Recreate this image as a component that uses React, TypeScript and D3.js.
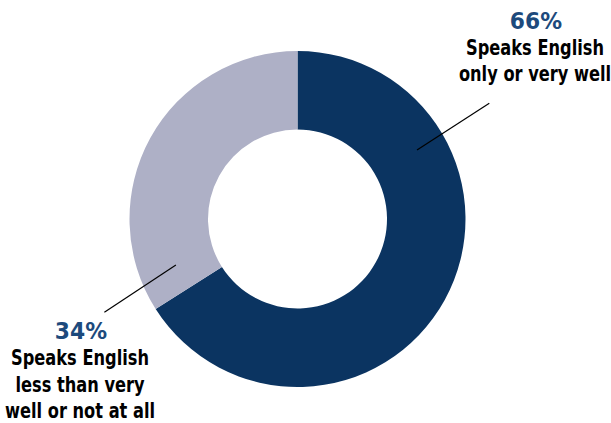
import React from "react";
import * as d3 from "d3";

const categories = ["Speaks English only or very well", "Speaks English less than very well or not at all"];
const values = [66, 34];
const percentLabels = ["66%", "34%"];
const labelLines = [
  ["Speaks English", "only or very well"],
  ["Speaks English", "less than very", "well or not at all"],
];
const colors = ["#0b3461", "#aeb0c6"];

const W = 611, H = 423;
const cx = 297.5, cy = 219;
const R = 168, r = 89.5;

function polar(angleDeg: number, rad: number): [number, number] {
  const a = (angleDeg * Math.PI) / 180;
  return [cx + rad * Math.sin(a), cy - rad * Math.cos(a)];
}

export default function App() {
  const pie = d3.pie<number>().sort(null).value((d) => d)(values);
  const arc = d3.arc<d3.PieArcDatum<number>>().innerRadius(r).outerRadius(R);

  const leaders = [
    { a: 60, r1: 138, a2: 58.9, r2: 224 },
    { a: 249.3, r1: 130, a2: 244.2, r2: 214.5 },
  ];
  const labelPos = [
    { x: 536, y: 29 },
    { x: 81, y: 339.5 },
  ];
  const textFont = "'DejaVu Sans Condensed', 'DejaVu Sans', sans-serif";

  return (
    <svg width={W} height={H} style={{ position: "absolute", left: 0, top: 0 }}>
      <rect width={W} height={H} fill="#fff" />
      <g transform={`translate(${cx},${cy})`}>
        {pie.map((p, i) => (
          <path key={categories[i]} d={arc(p) || ""} fill={colors[i]} />
        ))}
      </g>
      {leaders.map((l, i) => {
        const [x1, y1] = polar(l.a, l.r1);
        const [x2, y2] = polar(l.a2, l.r2);
        return <line key={i} x1={x1} y1={y1} x2={x2} y2={y2} stroke="#000" strokeWidth={1.2} />;
      })}
      {labelPos.map((p, i) => (
        <g key={i} textAnchor="middle">
          <g transform={`translate(${p.x},0) scale(0.95,1)`}>
            <text x={0} y={p.y} fill="#1d4a7c" fontFamily="'DejaVu Sans', sans-serif" fontWeight={700} fontSize={23}>
              {percentLabels[i]}
            </text>
          </g>
          <g transform={`translate(${p.x - 1},0) scale(0.82,1)`}>
            {labelLines[i].map((t, j) => (
              <text key={j} x={0} y={p.y + 26 + j * 26.5} fill="#000" fontFamily={textFont} fontWeight={700} fontSize={22}>
                {t}
              </text>
            ))}
          </g>
        </g>
      ))}
    </svg>
  );
}
